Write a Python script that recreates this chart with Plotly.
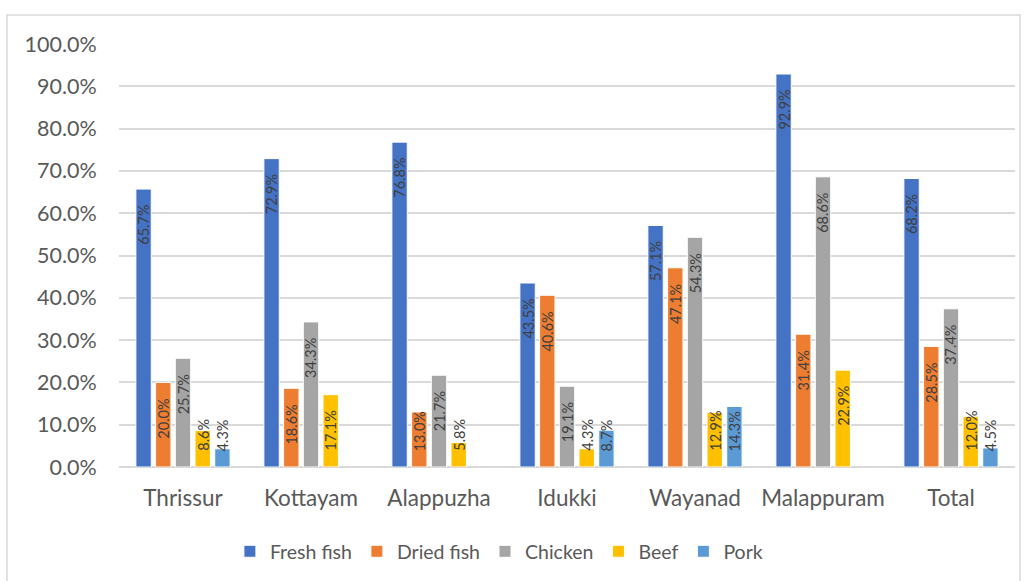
import plotly.graph_objects as go

districts = ["Thrissur", "Kottayam", "Alappuzha", "Idukki", "Wayanad", "Malappuram", "Total"]
fresh_fish = [65.7, 72.9, 76.8, 43.5, 57.1, 92.9, 68.2]
dried_fish = [20.0, 18.6, 13.0, 40.6, 47.1, 31.4, 28.5]
chicken = [25.7, 34.3, 21.7, 19.1, 54.3, 68.6, 37.4]
beef = [8.6, 17.1, 5.8, 4.3, 12.9, 22.9, 12.0]
pork = [4.3, None, None, 8.7, 14.3, None, 4.5]

series_names = ["Fresh fish", "Dried fish", "Chicken", "Beef", "Pork"]
series_values = [fresh_fish, dried_fish, chicken, beef, pork]
colors = ["#4472C4", "#ED7D31", "#A5A5A5", "#FFC000", "#5B9BD5"]

W, H = 1028, 581
ML, MR, MT, MB = 119, 13, 44, 114
PW = W - ML - MR
PH = H - MT - MB
BARGAP = 0.23
FONT = "Lato"

fig = go.Figure()
for name, vals, col in zip(series_names, series_values, colors):
    fig.add_trace(go.Bar(
        name=name, x=districts,
        y=[None if v is None else v / 100 for v in vals],
        marker=dict(color=col, line=dict(color="white", width=1)),
        hoverinfo="skip",
    ))

# data labels
pitch = PW / len(districts) * (1 - BARGAP) / len(series_names)
annotations = []
for i, vals in enumerate(series_values):
    for cat, v in zip(districts, vals):
        if v is None:
            continue
        low = v < 17.1
        annotations.append(dict(
            x=cat, y=0 if low else v / 100, xref="x", yref="y",
            text=f"{v:.1f}%", textangle=-90, showarrow=False,
            xanchor="center", yanchor="bottom" if low else "top",
            yshift=16 if low else -16,
            xshift=(i - 2) * pitch,
            borderpad=0, borderwidth=0,
            font=dict(family=FONT, size=14.5, color="#404040"),
        ))

fig.update_layout(
    width=W, height=H,
    margin=dict(l=ML, r=MR, t=MT, b=MB, autoexpand=False),
    paper_bgcolor="white", plot_bgcolor="white",
    barmode="group", bargap=BARGAP, bargroupgap=0.22,
    font=dict(family=FONT, size=20, color="#595959"),
    showlegend=True,
    legend=dict(orientation="h", x=0.424, xanchor="center", y=-0.2, yanchor="middle",
                font=dict(family=FONT, size=19.5, color="#595959"), itemwidth=30,
                traceorder="normal"),
    annotations=annotations,
    shapes=[dict(type="rect", xref="paper", yref="paper",
                 x0=(7 - ML) / PW, x1=(1020 - ML) / PW,
                 y0=-(MB + 10) / PH, y1=1 + (MT - 15) / PH,
                 line=dict(color="#D9D9D9", width=1.5), fillcolor="rgba(0,0,0,0)",
                 layer="below")],
)
fig.update_yaxes(range=[0, 1], dtick=0.1, tick0=0, tickformat=".1%",
                 showgrid=True, gridcolor="#D9D9D9", gridwidth=1.5,
                 zeroline=True, zerolinecolor="#D9D9D9", zerolinewidth=1.5,
                 showline=False, ticks="outside", ticklen=17, tickcolor="rgba(0,0,0,0)",
                 automargin=False,
                 tickfont=dict(family=FONT, size=21.5, color="#595959"))
fig.update_xaxes(showgrid=False, showline=False, ticks="outside", ticklen=11,
                 tickcolor="rgba(0,0,0,0)", automargin=False,
                 tickfont=dict(family=FONT, size=22.5, color="#595959"))

fig.write_html("out.html")
